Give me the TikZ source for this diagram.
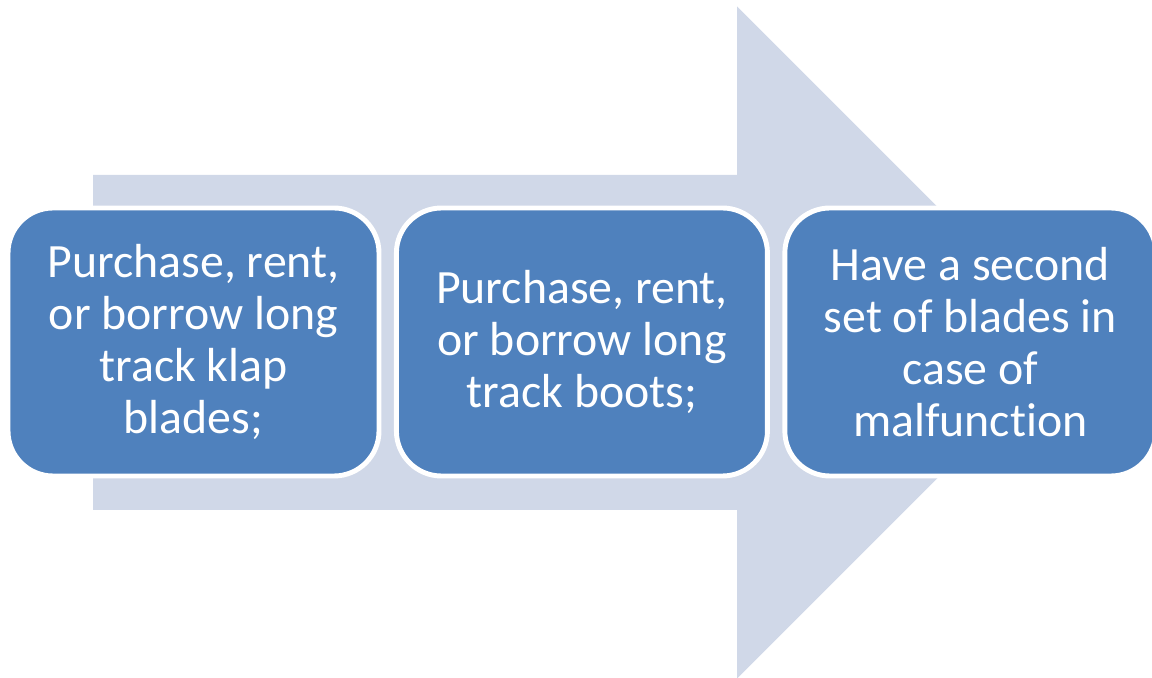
\documentclass[tikz,border=0pt]{standalone}
\usepackage{fontspec}
\setmainfont[Ligatures=NoCommon]{Carlito}
\usepackage{tikz}
\usetikzlibrary{positioning}

\definecolor{arrowgray}{HTML}{D0D8E8}
\definecolor{boxblue}{HTML}{4F81BD}

\begin{document}
\begin{tikzpicture}[font=\fontsize{27.2}{29.5}\selectfont,
            stage/.style={draw=white, line width=2.8pt, fill=boxblue, text=white,
                rounded corners=0.9cm, minimum width=7.42cm, minimum height=5.36cm,
                align=center, inner sep=0pt},
            node distance=0.25cm]

            \useasboundingbox (0,0) rectangle (23.04,13.54);

            % Background arrow
            \fill[arrowgray] (1.86,3.34) -- (1.86,10.04) -- (14.74,10.04) -- (14.74,13.41)
                -- (21.46,6.69) -- (14.74,-0.03) -- (14.74,3.34) -- cycle;

            % Steps
            \node[stage] (s1) at (3.87,6.7) {Purchase, rent,\\or borrow long\\track klap\\blades;};
            \node[stage, right=of s1] (s2) {Purchase, rent,\\or borrow long\\track boots;};
            \node[stage, right=of s2] (s3) {Have a second\\set of blades in\\case of\\malfunction};
\end{tikzpicture}
\end{document}
